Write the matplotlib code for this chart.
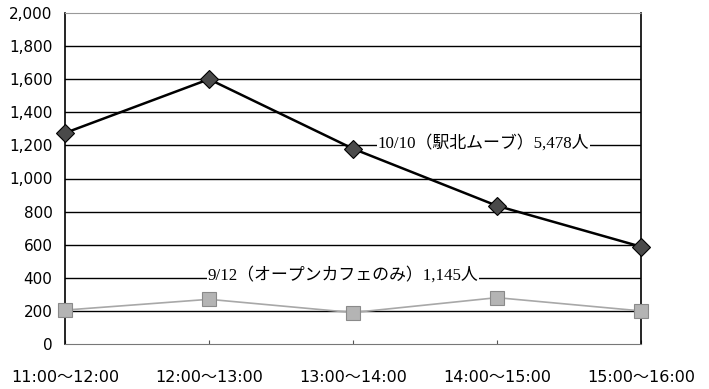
import numpy as np
import matplotlib.pyplot as plt

slots = ['11:00～12:00', '12:00～13:00', '13:00～14:00', '14:00～15:00', '15:00～16:00']
moove = [1275, 1600, 1180, 835, 588]      # 10/10 駅北ムーブ, total 5,478
cafe = [205, 270, 190, 280, 200]          # 9/12 オープンカフェのみ, total 1,145
yticks = [0, 200, 400, 600, 800, 1000, 1200, 1400, 1600, 1800, 2000]

label_font = ['Liberation Serif', 'Noto Sans CJK JP', 'DejaVu Sans']
plt.rcParams['font.family'] = ['DejaVu Sans', 'Noto Sans CJK JP']

fig = plt.figure(figsize=(7.09, 3.89), dpi=100)
ax = fig.add_axes([65/709, 45/389, 576/709, 331/389])
x = np.arange(len(slots))

for v in yticks[1:-1]:
  ax.axhline(v, color='black', lw=1.0, zorder=1)

ax.plot(x, cafe, color='#a8a8a8', lw=1.2, marker='s', ms=10,
        mfc='#b4b4b4', mec='#8a8a8a', mew=0.8, clip_on=False, zorder=3)
ax.plot(x, moove, color='black', lw=1.8, marker='D', ms=9,
        mfc='#4a4a4a', mec='black', mew=0.8, clip_on=False, zorder=4)

t1 = '10/10（駅北ムーブ）5,478人'
t2 = '9/12（オープンカフェのみ）1,145人'
ax.text(2.17, 1215, t1, family=label_font, fontsize=12.2, va='center', ha='left',
        bbox=dict(fc='white', ec='none', pad=0.5), zorder=5)
ax.text(0.99, 415, t2, family=label_font, fontsize=12.2, va='center', ha='left',
        bbox=dict(fc='white', ec='none', pad=0.5), zorder=2)

ax.set_xlim(0, 4)
ax.set_ylim(0, 2000)
ax.set_yticks(yticks)
ax.set_yticklabels(['{:,}'.format(v) for v in yticks])
ax.set_xticks(x)
ax.set_xticklabels(slots)
ax.tick_params(axis='y', length=0, labelsize=11, pad=9)
ax.tick_params(axis='x', direction='in', length=3, width=0.8, color='#555555',
               labelsize=11.5, pad=19)

ax.spines['top'].set_color('#999999')
ax.spines['top'].set_linestyle((0, (2, 1)))
ax.spines['bottom'].set_color('#777777')
ax.spines['left'].set_linewidth(1.2)
ax.spines['right'].set_linewidth(1.2)

plt.savefig('out.png', dpi=100)
